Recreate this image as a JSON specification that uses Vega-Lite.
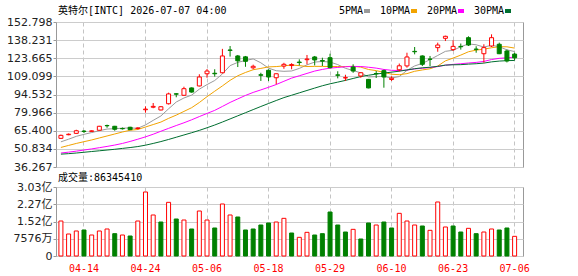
{
  "$schema": "https://vega.github.io/schema/vega-lite/v6.json",
  "autosize": {"type": "pad"},
  "padding": {"left": 6, "top": 5, "right": 0, "bottom": 0},
  "background": "white",
  "bounds": "flush",
  "spacing": 20,
  "config": {
    "view": {"stroke": "#999999", "strokeWidth": 1},
    "axisY": {"labelFont": "DejaVu Sans, Noto Sans CJK SC", "labelFontSize": 11, "labelColor": "#222222", "tickSize": 3, "tickColor": "#999999", "domain": false, "gridColor": "#cccccc", "title": null, "labelPadding": 1, "labelOverlap": false},
    "axisX": {"domain": false, "ticks": false, "gridDash": [4, 3], "gridColor": "#c4c4c4", "bandPosition": 0.5, "title": null}
  },
  "data": {"values": [
    {"d":"04-09","o":59.3,"h":62.3,"l":58.8,"c":61.7,"cd":"up","v":153700000,"vd":"up","5PMA":56.5,"10PMA":52.0,"20PMA":47.5,"30PMA":46.6},
    {"d":"04-10","o":62.2,"h":63.2,"l":61.8,"c":62.6,"cd":"up","v":96600000,"vd":"up","5PMA":58.6,"10PMA":53.6,"20PMA":48.2,"30PMA":47.0},
    {"d":"04-13","o":63.3,"h":66.2,"l":63.0,"c":65.4,"cd":"up","v":109800000,"vd":"up","5PMA":60.9,"10PMA":55.2,"20PMA":49.0,"30PMA":47.5},
    {"d":"04-14","o":65.1,"h":66.0,"l":63.6,"c":64.8,"cd":"down","v":114200000,"vd":"down","5PMA":62.5,"10PMA":56.6,"20PMA":49.9,"30PMA":48.1},
    {"d":"04-15","o":64.9,"h":65.7,"l":64.6,"c":65.3,"cd":"up","v":92200000,"vd":"up","5PMA":63.96,"10PMA":58.0,"20PMA":50.8,"30PMA":48.7},
    {"d":"04-16","o":65.8,"h":69.3,"l":65.6,"c":69.0,"cd":"up","v":109800000,"vd":"up","5PMA":65.42,"10PMA":59.6,"20PMA":51.8,"30PMA":49.3},
    {"d":"04-17","o":69.6,"h":70.3,"l":67.8,"c":69.4,"cd":"down","v":118600000,"vd":"up","5PMA":66.78,"10PMA":61.2,"20PMA":52.8,"30PMA":49.9},
    {"d":"04-20","o":69.0,"h":69.3,"l":65.4,"c":66.6,"cd":"down","v":98100000,"vd":"down","5PMA":67.02,"10PMA":62.8,"20PMA":53.9,"30PMA":50.5},
    {"d":"04-21","o":67.2,"h":68.0,"l":66.4,"c":67.0,"cd":"down","v":92200000,"vd":"up","5PMA":67.46,"10PMA":64.4,"20PMA":55.2,"30PMA":51.2},
    {"d":"04-22","o":68.2,"h":68.6,"l":65.9,"c":66.3,"cd":"down","v":87800000,"vd":"down","5PMA":67.66,"10PMA":65.81,"20PMA":56.8,"30PMA":51.9},
    {"d":"04-23","o":67.2,"h":68.2,"l":66.4,"c":67.6,"cd":"up","v":153700000,"vd":"up","5PMA":67.38,"10PMA":66.4,"20PMA":58.6,"30PMA":52.7},
    {"d":"04-24","o":82.3,"h":85.0,"l":79.9,"c":82.8,"cd":"up","v":281100000,"vd":"up","5PMA":70.06,"10PMA":68.42,"20PMA":60.5,"30PMA":53.8},
    {"d":"04-27","o":84.3,"h":87.7,"l":83.5,"c":85.0,"cd":"up","v":180100000,"vd":"up","5PMA":73.74,"10PMA":70.38,"20PMA":62.6,"30PMA":55.2},
    {"d":"04-28","o":82.1,"h":85.2,"l":81.8,"c":84.7,"cd":"up","v":149300000,"vd":"down","5PMA":77.28,"10PMA":72.37,"20PMA":65.0,"30PMA":56.7},
    {"d":"04-29","o":87.1,"h":96.0,"l":86.5,"c":95.0,"cd":"up","v":235700000,"vd":"up","5PMA":83.02,"10PMA":75.34,"20PMA":67.3,"30PMA":58.4},
    {"d":"04-30","o":95.1,"h":95.6,"l":92.3,"c":94.8,"cd":"down","v":162500000,"vd":"down","5PMA":88.5,"10PMA":77.96,"20PMA":69.6,"30PMA":60.2},
    {"d":"05-01","o":93.9,"h":100.8,"l":93.5,"c":99.2,"cd":"up","v":158100000,"vd":"up","5PMA":91.74,"10PMA":80.94,"20PMA":71.8,"30PMA":62.0},
    {"d":"05-04","o":99.8,"h":100.2,"l":96.0,"c":96.5,"cd":"down","v":118600000,"vd":"down","5PMA":94.04,"10PMA":83.93,"20PMA":74.2,"30PMA":63.8},
    {"d":"05-05","o":101.4,"h":110.8,"l":101.0,"c":108.6,"cd":"up","v":197600000,"vd":"up","5PMA":98.82,"10PMA":88.09,"20PMA":76.8,"30PMA":65.7},
    {"d":"05-06","o":111.2,"h":115.0,"l":108.0,"c":113.4,"cd":"up","v":158100000,"vd":"up","5PMA":102.5,"10PMA":92.8,"20PMA":79.31,"30PMA":67.8},
    {"d":"05-07","o":111.6,"h":114.8,"l":108.9,"c":111.2,"cd":"down","v":123000000,"vd":"down","5PMA":105.78,"10PMA":97.16,"20PMA":81.78,"30PMA":70.0},
    {"d":"05-08","o":112.0,"h":131.2,"l":111.5,"c":125.5,"cd":"up","v":228400000,"vd":"up","5PMA":111.04,"10PMA":101.43,"20PMA":84.93,"30PMA":72.4},
    {"d":"05-11","o":130.3,"h":133.5,"l":125.0,"c":130.0,"cd":"down","v":180100000,"vd":"up","5PMA":117.74,"10PMA":105.93,"20PMA":88.16,"30PMA":74.9},
    {"d":"05-12","o":125.5,"h":126.3,"l":116.6,"c":121.6,"cd":"down","v":171300000,"vd":"down","5PMA":120.34,"10PMA":109.58,"20PMA":90.98,"30PMA":77.4},
    {"d":"05-13","o":124.8,"h":125.5,"l":116.8,"c":121.2,"cd":"down","v":114200000,"vd":"down","5PMA":121.9,"10PMA":112.23,"20PMA":93.79,"30PMA":79.9},
    {"d":"05-14","o":116.0,"h":118.5,"l":114.8,"c":117.2,"cd":"up","v":118600000,"vd":"down","5PMA":123.1,"10PMA":114.43,"20PMA":96.2,"30PMA":82.4},
    {"d":"05-15","o":110.4,"h":112.0,"l":105.4,"c":110.0,"cd":"down","v":136100000,"vd":"down","5PMA":120.0,"10PMA":115.51,"20PMA":98.23,"30PMA":84.9},
    {"d":"05-18","o":114.0,"h":114.8,"l":105.4,"c":108.6,"cd":"down","v":144900000,"vd":"down","5PMA":115.72,"10PMA":116.72,"20PMA":100.33,"30PMA":87.3},
    {"d":"05-19","o":108.0,"h":111.4,"l":102.7,"c":111.2,"cd":"up","v":149300000,"vd":"up","5PMA":113.64,"10PMA":116.98,"20PMA":102.54,"30PMA":89.7},
    {"d":"05-20","o":117.4,"h":120.0,"l":115.2,"c":118.8,"cd":"up","v":165400000,"vd":"up","5PMA":113.16,"10PMA":117.52,"20PMA":105.16,"30PMA":92.04},
    {"d":"05-21","o":117.8,"h":119.7,"l":114.8,"c":118.6,"cd":"up","v":101000000,"vd":"down","5PMA":113.44,"10PMA":118.26,"20PMA":107.71,"30PMA":93.94},
    {"d":"05-22","o":120.6,"h":122.8,"l":117.9,"c":120.2,"cd":"down","v":82000000,"vd":"up","5PMA":115.48,"10PMA":117.73,"20PMA":109.58,"30PMA":95.86},
    {"d":"05-26","o":122.5,"h":126.3,"l":118.8,"c":123.0,"cd":"up","v":103900000,"vd":"up","5PMA":118.36,"10PMA":117.03,"20PMA":111.48,"30PMA":97.78},
    {"d":"05-27","o":124.7,"h":125.5,"l":117.9,"c":122.3,"cd":"down","v":92200000,"vd":"down","5PMA":120.58,"10PMA":117.14,"20PMA":113.36,"30PMA":99.69},
    {"d":"05-28","o":121.8,"h":124.1,"l":117.4,"c":121.4,"cd":"down","v":98100000,"vd":"down","5PMA":121.1,"10PMA":117.13,"20PMA":114.68,"30PMA":101.56},
    {"d":"05-29","o":124.1,"h":127.3,"l":115.5,"c":116.1,"cd":"down","v":193200000,"vd":"down","5PMA":120.6,"10PMA":117.02,"20PMA":115.73,"30PMA":103.13},
    {"d":"06-01","o":110.3,"h":113.2,"l":107.5,"c":110.0,"cd":"down","v":136100000,"vd":"down","5PMA":118.56,"10PMA":117.02,"20PMA":116.27,"30PMA":104.49},
    {"d":"06-02","o":107.8,"h":110.4,"l":105.4,"c":108.1,"cd":"up","v":105400000,"vd":"down","5PMA":115.58,"10PMA":116.97,"20PMA":116.85,"30PMA":105.87},
    {"d":"06-03","o":116.6,"h":118.8,"l":112.0,"c":113.4,"cd":"down","v":117100000,"vd":"up","5PMA":113.8,"10PMA":117.19,"20PMA":117.09,"30PMA":107.42},
    {"d":"06-04","o":109.4,"h":112.5,"l":108.0,"c":112.0,"cd":"up","v":74700000,"vd":"down","5PMA":111.92,"10PMA":116.51,"20PMA":117.02,"30PMA":108.94},
    {"d":"06-05","o":106.7,"h":107.0,"l":99.5,"c":99.8,"cd":"down","v":144900000,"vd":"down","5PMA":108.66,"10PMA":114.63,"20PMA":116.45,"30PMA":110.01},
    {"d":"06-08","o":111.4,"h":113.4,"l":107.8,"c":111.2,"cd":"down","v":136100000,"vd":"up","5PMA":108.9,"10PMA":113.73,"20PMA":115.73,"30PMA":110.96},
    {"d":"06-09","o":113.7,"h":114.5,"l":100.0,"c":108.6,"cd":"down","v":149300000,"vd":"down","5PMA":109.0,"10PMA":112.29,"20PMA":114.66,"30PMA":111.75},
    {"d":"06-10","o":106.6,"h":109.2,"l":105.4,"c":107.6,"cd":"up","v":123000000,"vd":"down","5PMA":107.84,"10PMA":110.82,"20PMA":113.98,"30PMA":112.51},
    {"d":"06-11","o":114.4,"h":119.4,"l":113.0,"c":117.6,"cd":"up","v":187400000,"vd":"up","5PMA":108.96,"10PMA":110.44,"20PMA":113.79,"30PMA":113.26},
    {"d":"06-12","o":117.5,"h":128.1,"l":116.1,"c":124.7,"cd":"up","v":153700000,"vd":"up","5PMA":113.94,"10PMA":111.3,"20PMA":114.16,"30PMA":114.25},
    {"d":"06-15","o":129.2,"h":132.7,"l":126.8,"c":128.9,"cd":"down","v":136100000,"vd":"up","5PMA":117.48,"10PMA":113.19,"20PMA":115.11,"30PMA":115.24},
    {"d":"06-16","o":125.5,"h":126.0,"l":117.4,"c":118.8,"cd":"down","v":131800000,"vd":"down","5PMA":119.52,"10PMA":114.26,"20PMA":115.62,"30PMA":115.98},
    {"d":"06-17","o":123.0,"h":125.5,"l":117.4,"c":122.8,"cd":"down","v":112700000,"vd":"up","5PMA":122.56,"10PMA":115.2,"20PMA":116.2,"30PMA":116.45},
    {"d":"06-18","o":132.2,"h":136.2,"l":128.9,"c":134.3,"cd":"up","v":237200000,"vd":"up","5PMA":125.9,"10PMA":117.43,"20PMA":116.97,"30PMA":117.15},
    {"d":"06-22","o":139.7,"h":141.8,"l":137.5,"c":141.3,"cd":"up","v":127400000,"vd":"up","5PMA":129.22,"10PMA":121.58,"20PMA":118.1,"30PMA":118.15},
    {"d":"06-23","o":130.6,"h":138.1,"l":129.5,"c":133.2,"cd":"up","v":131800000,"vd":"down","5PMA":130.08,"10PMA":123.78,"20PMA":118.75,"30PMA":118.41},
    {"d":"06-24","o":133.2,"h":135.5,"l":130.6,"c":132.9,"cd":"down","v":105400000,"vd":"down","5PMA":132.9,"10PMA":126.21,"20PMA":119.25,"30PMA":118.51},
    {"d":"06-25","o":140.2,"h":141.3,"l":133.5,"c":134.3,"cd":"down","v":121500000,"vd":"up","5PMA":135.2,"10PMA":128.88,"20PMA":119.85,"30PMA":118.95},
    {"d":"06-26","o":131.0,"h":133.3,"l":128.1,"c":130.8,"cd":"down","v":98100000,"vd":"down","5PMA":134.5,"10PMA":130.2,"20PMA":120.32,"30PMA":119.26},
    {"d":"06-29","o":127.3,"h":134.9,"l":120.1,"c":132.2,"cd":"up","v":105400000,"vd":"up","5PMA":132.68,"10PMA":130.95,"20PMA":121.12,"30PMA":119.76},
    {"d":"06-30","o":133.5,"h":142.9,"l":132.7,"c":140.2,"cd":"up","v":118600000,"vd":"up","5PMA":134.08,"10PMA":132.08,"20PMA":122.63,"30PMA":120.76},
    {"d":"07-01","o":134.9,"h":136.2,"l":127.0,"c":127.3,"cd":"down","v":114200000,"vd":"down","5PMA":132.96,"10PMA":132.98,"20PMA":123.6,"30PMA":121.39},
    {"d":"07-02","o":129.5,"h":130.6,"l":120.3,"c":121.5,"cd":"down","v":123000000,"vd":"down","5PMA":130.4,"10PMA":132.86,"20PMA":124.0,"30PMA":121.73},
    {"d":"07-06","o":127.0,"h":128.1,"l":122.0,"c":124.0,"cd":"down","v":86345410,"vd":"up","5PMA":129.04,"10PMA":131.83,"20PMA":124.6,"30PMA":121.9}
  ]},
  "vconcat": [
    {
      "width": 467,
      "height": 145,
      "title": {"text": "英特尔[INTC] 2026-07-07 04:00", "anchor": "start", "frame": "group", "font": "DejaVu Sans Mono, Noto Sans CJK SC", "fontSize": 10, "fontWeight": "normal", "color": "#000000", "offset": 0, "dx": 2},
      "encoding": {
        "x": {"field": "d", "type": "ordinal", "sort": null,
          "scale": {"type": "band", "paddingInner": 0, "paddingOuter": 0.364, "align": 0.19},
          "axis": {"values": ["04-14","04-24","05-06","05-18","05-29","06-10","06-23","07-06"], "labels": false, "grid": true, "ticks": false, "domain": false}}
      },
      "layer": [
        {
          "transform": [{"fold": ["5PMA", "10PMA", "20PMA", "30PMA"], "as": ["ma", "val"]}],
          "mark": {"type": "line", "strokeWidth": 1},
          "encoding": {
            "y": {"field": "val", "type": "quantitative",
              "scale": {"domain": [36.267, 152.798], "nice": false, "zero": false},
              "axis": {"values": [36.267, 50.834, 65.4, 79.966, 94.532, 109.099, 123.665, 138.231, 152.798], "tickCount": 20, "format": ".3f", "grid": true, "labelOverlap": false}},
            "color": {"field": "ma", "type": "nominal",
              "scale": {"domain": ["5PMA", "10PMA", "20PMA", "30PMA"], "range": ["#9a9a9a", "#f2a300", "#ff00ff", "#006e30"]},
              "legend": {"orient": "none", "legendX": 306, "legendY": -16, "direction": "horizontal", "title": null,
                "symbolType": "stroke", "symbolSize": 36, "symbolStrokeWidth": 4,
                "labelFont": "DejaVu Sans Mono", "labelFontSize": 10, "labelColor": "#000000",
                "labelAlign": "right", "labelOffset": -9, "columnPadding": 1}}
          }
        },
        {
          "mark": {"type": "rule", "strokeWidth": 1},
          "encoding": {
            "y": {"field": "l", "type": "quantitative", "scale": {"domain": [36.267, 152.798], "nice": false, "zero": false}},
            "y2": {"field": "h"},
            "color": {"condition": {"test": "datum.cd === 'up'", "value": "#ff0000"}, "value": "#008000"}
          }
        },
        {
          "mark": {"type": "bar", "size": 4, "strokeWidth": 1},
          "encoding": {
            "y": {"field": "o", "type": "quantitative", "scale": {"domain": [36.267, 152.798], "nice": false, "zero": false}},
            "y2": {"field": "c"},
            "fill": {"condition": {"test": "datum.cd === 'up'", "value": "#ffffff"}, "value": "#008000"},
            "stroke": {"condition": {"test": "datum.cd === 'up'", "value": "#ff0000"}, "value": "#008000"}
          }
        }
      ]
    },
    {
      "width": 467,
      "height": 69,
      "title": {"text": "成交量:86345410", "anchor": "start", "frame": "group", "font": "DejaVu Sans Mono, Noto Sans CJK SC", "fontSize": 10, "fontWeight": "normal", "color": "#000000", "offset": -2, "dx": 2},
      "mark": {"type": "bar", "size": 4, "strokeWidth": 1},
      "encoding": {
        "x": {"field": "d", "type": "ordinal", "sort": null,
          "scale": {"type": "band", "paddingInner": 0, "paddingOuter": 0.364, "align": 0.19},
          "axis": {"values": ["04-14","04-24","05-06","05-18","05-29","06-10","06-23","07-06"], "grid": true, "ticks": false, "domain": false, "labelAngle": 0, "labelOverlap": false, "labelColor": "#ff0000", "labelFont": "DejaVu Sans Mono", "labelFontSize": 10, "labelPadding": 7}},
        "y": {"field": "v", "type": "quantitative",
          "scale": {"domain": [0, 303040000], "nice": false},
          "axis": {"values": [0, 75760000, 151520000, 227280000, 303040000], "tickCount": 20, "grid": true, "labelOverlap": false,
            "labelExpr": "datum.value == 0 ? '0' : (datum.value < 100000000 ? format(datum.value / 10000, '.0f') + '万' : format(datum.value / 100000000, '.2f') + '亿')"}},
        "fill": {"condition": {"test": "datum.vd === 'up'", "value": "#ffffff"}, "value": "#008000"},
        "stroke": {"condition": {"test": "datum.vd === 'up'", "value": "#ff0000"}, "value": "#008000"}
      }
    }
  ]
}
